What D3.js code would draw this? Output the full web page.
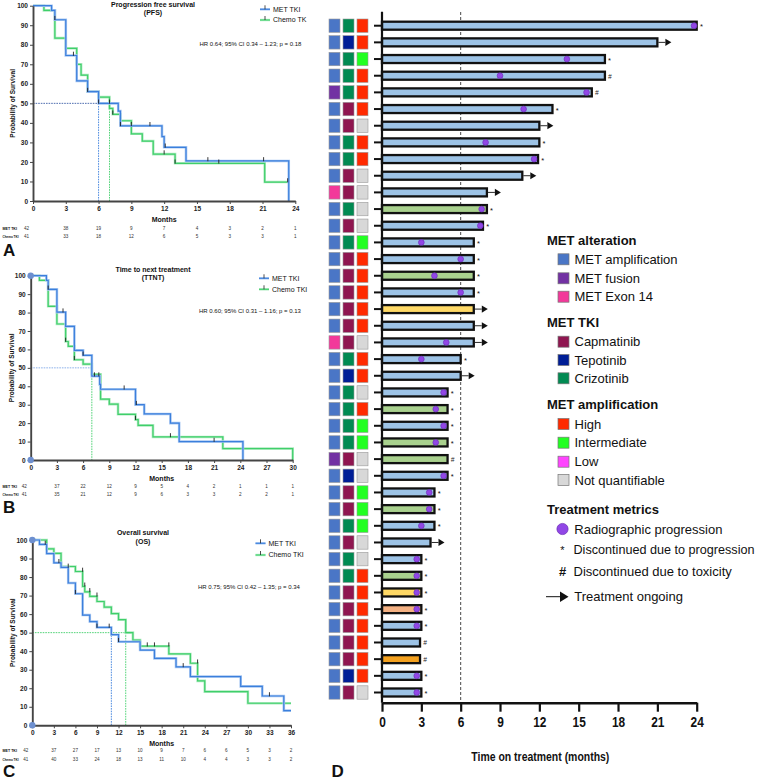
<!DOCTYPE html>
<html><head><meta charset="utf-8">
<script src="https://cdn.jsdelivr.net/npm/d3@7"></script>
<style>body{margin:0;background:#fff} svg{display:block;font-family:"Liberation Sans",Arial,sans-serif}</style>
</head><body><svg id="c" width="758" height="780"></svg>
<script>
// ---------- Kaplan-Meier data (time in months, survival %) ----------
const pfsMet = [[0,100],[1.7,97.6],[2,92.8],[3,74.5],[4,61.5],[5,56],[6,50],[7.8,46],[8,38.5],[11.8,33],[12,27.5],[14,20.5],[23.4,0]];
const pfsChemo = [[0,100],[1,97.6],[2,83.4],[3,78.2],[4,70],[4.4,64.5],[5,56],[6,53.2],[7,47.4],[7.3,44.4],[8,41.1],[9,34.4],[10,30.7],[11,24],[13,19.3],[21.2,9.7],[23.3,9.7]];
const pfsMetCens = [[2,92.8],[3.7,74.5],[5,56],[6,50],[7,50],[8,38.5],[9,38.5],[10.7,38.5],[12.1,27.5],[16,20.5],[21.1,20.5]];
const pfsChemoCens = [[7.3,44.4],[12,24],[13,19.3],[17,19.3],[23.3,9.7]];
const pfsTicks = [0,3,6,9,12,15,18,21,24];
const pfsRiskMet = [42,38,19,9,7,4,3,2,1];
const pfsRiskChemo = [41,33,18,12,6,5,3,3,1];

const ttntMet = [[0,100],[1.8,97.5],[2,92.6],[3,80.2],[4,72.5],[5,59.5],[6,56.8],[7,45.5],[7.9,41],[8,38.4],[12,30],[13,25],[16,20],[17,10],[24.3,0]];
const ttntChemo = [[0,100],[1,97.5],[2,83.4],[3,73.8],[4,64.3],[4.3,61.7],[5,54.4],[6,52],[7,46.5],[8,33],[9,30.3],[10,24.8],[12,21.9],[12.3,18.8],[14,12.5],[22,6.2],[30,0]];
const ttntMetCens = [[2,92.6],[3.7,80.2],[6,56.8],[7.3,45.5],[7.8,45.5],[10.7,38.4],[12.1,30],[21,10]];
const ttntChemoCens = [[4,64.3],[5,54.4],[12,21.9],[16,12.5]];
const ttntTicks = [0,3,6,9,12,15,18,21,24,27,30];
const ttntRiskMet = [42,37,22,12,9,5,4,2,1,1,1];
const ttntRiskChemo = [41,35,21,12,9,6,3,3,2,2,1];

const osMet = [[0,100],[1,97.6],[2,92.7],[3,87.7],[4,85.2],[5,76.8],[6,71],[7,59.5],[8,56],[9,52.8],[11,48.9],[12,45.1],[15,40.6],[17,36.1],[20,31.5],[22,26.3],[29,21],[32,15.8],[35,7.9],[36,7.9]];
const osChemo = [[0,100],[2,95.2],[3,92.8],[4,85.7],[6,83],[7,75],[7.3,72],[8,69.6],[9,66.8],[10,63.8],[11,60.3],[12,57],[13,50],[14,46],[15,42.7],[19,38.5],[22,33.5],[23,24],[24,18.2],[30,11.9],[36,11.9]];
const osMetCens = [[1.8,97.6],[3.7,87.7],[5,85.2],[6,71],[9,52.8],[10.7,52.8],[12,45.1],[21,31.5],[33,15.8]];
const osChemoCens = [[7,83],[7.3,75],[8,72],[9,69.6],[16,42.7],[17,42.7],[19,42.7],[23,33.5]];
const osTicks = [0,3,6,9,12,15,18,21,24,27,30,33,36];
const osRiskMet = [42,37,27,17,13,10,9,7,6,6,5,3,2];
const osRiskChemo = [41,40,33,24,18,13,11,10,4,4,3,3,2];

const yTicks = [0,10,20,30,40,50,60,70,80,90,100];

// ---------- Swimmer plot data (panel D), one entry per patient ----------
const dAlt = ['amp','amp','amp','amp','fus','amp','amp','amp','amp','amp','ex14','amp','amp','amp','amp','amp','amp','amp','amp','ex14','amp','amp','amp','amp','amp','amp','fus','amp','amp','amp','amp','amp','amp','amp','amp','amp','amp','amp','amp','amp','amp'];
const dTki = ['cri','tep','cri','cri','cri','cap','cap','cri','cri','cap','cap','cri','cap','cri','cap','cap','cap','cap','cap','cap','cri','tep','cri','cri','cri','cri','cap','tep','cap','cap','cri','cap','cri','cri','cap','cap','cap','cap','cap','tep','cap'];
const dAmp = ['high','high','int','high','high','high','nq','high','high','nq','nq','nq','nq','int','high','high','high','high','high','nq','high','high','nq','high','int','int','nq','nq','int','int','int','nq','nq','high','high','high','high','high','high','high','nq'];
const dDuration = [24,21,17,17,16,13,12,12,11.9,10.7,8,8,7.7,7,7,7,7,7,7,7,6,6,5,5,5,5,5,5,4,4,4,3.7,3,3,3,3,3,2.9,2.9,3,3];
const dBar = ['b','b','b','b','b','b','b','b','b','b','b','g','b','b','b','g','b','y','b','b','b','b','b','g','b','g','g','b','b','g','b','b','b','g','y','p','b','b','o','b','b'];
const dProg = [23.8,null,14.1,9.0,15.6,10.8,null,7.9,11.6,null,null,7.6,7.5,3.0,6.0,4.0,6.0,null,null,4.9,3.0,null,4.7,4.1,4.7,4.1,null,4.7,3.6,3.6,3.0,null,2.65,2.65,2.65,2.65,2.65,null,null,2.65,2.65];
const dEnd = ['*','arrow','*','#','#','*','arrow','*','*','arrow','arrow','*','*','*','*','*','*','arrow','arrow','arrow','*','arrow','*','*','*','*','#','*','*','*','*','arrow','*','*','*','*','*','#','#','*','*'];
const dTicks = [0,3,6,9,12,15,18,21,24];

// ---------- colours ----------
const altColor = {amp:'#4a76c6', fus:'#7231a3', ex14:'#f2399a'};
const tkiColor = {cap:'#8f1650', tep:'#001e96', cri:'#018a52'};
const ampColor = {high:'#ff2a00', int:'#22ff22', low:'#ff44ff', nq:'#d8d8d8'};
const barColor = {b:'#9dc3e6', g:'#a9d18e', y:'#ffd966', p:'#f4b183', o:'#f4a11f'};
const BLUE = '#3b7fdc', GREEN = '#3fcf6a', BLUE_L = '#a9c8f2', GREEN_L = '#aeeac0';

const svg = d3.select('#c');
function narrow(sel, f) {
  sel.each(function () {
    const L = this.getComputedTextLength();
    d3.select(this).attr('textLength', L * f).attr('lengthAdjust', 'spacingAndGlyphs');
  });
}

function km(o) {
  const g = svg.append('g');
  const x = d3.scaleLinear([0, o.xMax], [o.x0, o.x1]);
  const y = d3.scaleLinear([0, 100], [o.y0, o.y1]);
  o.medians.forEach(m => {
    g.append('line').attr('x1', x(m[0])).attr('x2', x(m[1])).attr('y1', y(m[2])).attr('y2', y(m[3]))
      .attr('stroke', m[4]).attr('stroke-width', 0.9).attr('stroke-dasharray', '1.6,1');
  });
  const line = d3.line().x(d => x(d[0])).y(d => y(d[1])).curve(d3.curveStepAfter);
  [[o.chemo, GREEN, GREEN_L], [o.met, BLUE, BLUE_L]].forEach(([d, c, cl]) => {
    g.append('path').attr('d', line(d)).attr('fill', 'none').attr('stroke', cl).attr('stroke-width', 2.6);
    g.append('path').attr('d', line(d)).attr('fill', 'none').attr('stroke', c).attr('stroke-width', 1.2);
  });
  [...o.metC, ...o.chemoC].forEach(d => {
    g.append('line').attr('x1', x(d[0])).attr('x2', x(d[0])).attr('y1', y(d[1]) - 3.8).attr('y2', y(d[1]) + 0.3)
      .attr('stroke', '#222').attr('stroke-width', 0.9);
  });
  const ay = g.append('g').attr('transform', `translate(${o.x0},0)`)
    .call(d3.axisLeft(y).tickValues(yTicks).tickSize(3).tickSizeOuter(0).tickPadding(2));
  const ax = g.append('g').attr('transform', `translate(0,${o.y0})`)
    .call(d3.axisBottom(x).tickValues(o.ticks).tickSize(3).tickSizeOuter(0).tickPadding(2.5));
  [ay, ax].forEach(a => {
    a.select('.domain').attr('stroke', '#444').attr('stroke-width', 1.9);
    a.selectAll('.tick line').attr('stroke', '#444').attr('stroke-width', 1);
    a.selectAll('.tick text').attr('font-size', 6.5).attr('font-weight', 'bold').attr('fill', '#222')
      .attr('font-family', '"Liberation Sans",Arial,sans-serif');
  });
  if (o.dots) {
    [100, 0].forEach(v => g.append('circle').attr('cx', o.x0).attr('cy', y(v)).attr('r', 3.2).attr('fill', '#6d8fcf'));
  }
  const t = (tx, xx, yy, fs, w, anchor) => g.append('text').text(tx).attr('x', xx).attr('y', yy)
    .attr('font-size', fs).attr('font-weight', w || 'normal').attr('text-anchor', anchor || 'start').attr('fill', '#111');
  t(o.title[0], o.titleX, o.titleY, 7, 'bold', 'middle');
  t(o.title[1], o.titleX, o.titleY + 8.7, 7, 'bold', 'middle');
  t('Months', (o.x0 + o.x1) / 2, o.y0 + 20.5, 7, 'bold', 'middle');
  g.append('text').text('Probability of Survival').attr('transform', `translate(${o.ylabX},${(o.y0 + o.y1) / 2}) rotate(-90)`)
    .attr('font-size', 6.5).attr('font-weight', 'bold').attr('text-anchor', 'middle').attr('fill', '#111');
  t(o.hr, o.hrX, o.hrY, 6, 'normal', 'start');
  [[o.legNames[0], BLUE, BLUE_L, o.legY], [o.legNames[1], GREEN, GREEN_L, o.legY + o.legGap]].forEach(([n, c, cl, ly]) => {
    g.append('line').attr('x1', o.legX - 13).attr('x2', o.legX - 3).attr('y1', ly).attr('y2', ly).attr('stroke', cl).attr('stroke-width', 2.4);
    g.append('line').attr('x1', o.legX - 13).attr('x2', o.legX - 3).attr('y1', ly).attr('y2', ly).attr('stroke', c).attr('stroke-width', 1.1);
    g.append('line').attr('x1', o.legX - 8).attr('x2', o.legX - 8).attr('y1', ly - 4).attr('y2', ly).attr('stroke', '#222').attr('stroke-width', 0.8);
    t(n, o.legX, ly + 2.4, 7, 'normal', 'start');
  });
  [['MET TKI', o.riskMet, o.riskY, 14.5], ['Chemo TKI', o.riskChemo, o.riskY + o.riskGap, 16]].forEach(([lab, arr, ry, tl]) => {
    t(lab, 2.5, ry + 1.5, 3.6, 'bold', 'start').attr('textLength', tl).attr('lengthAdjust', 'spacingAndGlyphs');
    arr.forEach((v, i) => t(v, i === 0 ? x(o.ticks[i]) - 6.5 : x(o.ticks[i]), ry + 1.6, 4.6, 'normal', 'middle').attr('fill', '#333'));
  });
  t(o.letter, 3, o.letterY, 17, 'bold', 'start');
}

km({ xMax: 24, x0: 33, x1: 295.3, y0: 201, y1: 5.7, ticks: pfsTicks, met: pfsMet, chemo: pfsChemo,
  metC: pfsMetCens, chemoC: pfsChemoCens, riskMet: pfsRiskMet, riskChemo: pfsRiskChemo,
  medians: [[0, 6, 50, 50, '#3d5fa8'], [6, 6, 50, 0, BLUE], [7, 7, 50, 0, GREEN]],
  title: ['Progression free survival', '(PFS)'], titleX: 153, titleY: 6.5,
  hr: 'HR 0.64; 95% CI 0.34 \u2013 1.23; p = 0.18', hrX: 199.5, hrY: 45.5,
  legNames: ['MET TKI', 'Chemo TK'], legX: 273, legY: 9.3, legGap: 10.7,
  ylabX: 15, riskY: 228.7, riskGap: 8, letter: 'A', letterY: 256, dots: false });

km({ xMax: 30, x0: 30.7, x1: 292.7, y0: 460, y1: 275.7, ticks: ttntTicks, met: ttntMet, chemo: ttntChemo,
  metC: ttntMetCens, chemoC: ttntChemoCens, riskMet: ttntRiskMet, riskChemo: ttntRiskChemo,
  medians: [[0, 7, 50, 50, '#7fa8e8'], [7, 7, 50, 0, GREEN]],
  title: ['Time to next treatment', '(TTNT)'], titleX: 153, titleY: 271.5,
  hr: 'HR 0.60; 95% CI 0.31 \u2013 1.16; p = 0.13', hrX: 199, hrY: 313,
  legNames: ['MET TKI', 'Chemo TKI'], legX: 272, legY: 278.3, legGap: 11,
  ylabX: 14, riskY: 486.7, riskGap: 7.5, letter: 'B', letterY: 513, dots: true });

km({ xMax: 36, x0: 32.3, x1: 291, y0: 725.3, y1: 540, ticks: osTicks, met: osMet, chemo: osChemo,
  metC: osMetCens, chemoC: osChemoCens, riskMet: osRiskMet, riskChemo: osRiskChemo,
  medians: [[0, 13, 50, 50, GREEN], [11, 11, 50, 0, BLUE], [13, 13, 50, 0, GREEN]],
  title: ['Overall survival', '(OS)'], titleX: 143, titleY: 535,
  hr: 'HR 0.75; 95% CI 0.42 \u2013 1.35; p = 0.34', hrX: 198, hrY: 589,
  legNames: ['MET TKI', 'Chemo TKI'], legX: 268.5, legY: 543.3, legGap: 11.7,
  ylabX: 15, riskY: 750.7, riskGap: 8.3, letter: 'C', letterY: 777, dots: true });

// ---------- Panel D ----------
const gd = svg.append('g');
const xD = d3.scaleLinear([0, 24], [382, 696.7]);
const rows = d3.range(dDuration.length);
const yD = d3.scalePoint(rows, [25.7, 692.5]);
const AX_Y = 702.7;

gd.append('line').attr('x1', xD(6)).attr('x2', xD(6)).attr('y1', 12).attr('y2', AX_Y)
  .attr('stroke', '#333').attr('stroke-width', 0.9).attr('stroke-dasharray', '3,2');

rows.forEach(i => {
  const cy = yD(i);
  [[329, altColor[dAlt[i]]], [343, tkiColor[dTki[i]]], [357, ampColor[dAmp[i]]]].forEach(([sx, c]) => {
    gd.append('rect').attr('x', sx).attr('y', cy - 6.7).attr('width', 11).attr('height', 13.4)
      .attr('fill', c).attr('stroke', '#999').attr('stroke-width', 0.6);
  });
  gd.append('line').attr('x1', 374).attr('x2', 382).attr('y1', cy).attr('y2', cy).attr('stroke', '#111').attr('stroke-width', 2);
  const xe = xD(dDuration[i]);
  gd.append('rect').attr('x', xD(0)).attr('y', cy - 4).attr('width', xe - xD(0)).attr('height', 8)
    .attr('fill', barColor[dBar[i]]).attr('stroke', '#111').attr('stroke-width', 2.3);
  if (dProg[i] != null) {
    gd.append('circle').attr('cx', xD(dProg[i])).attr('cy', cy).attr('r', 2.9)
      .attr('fill', '#9147e6').attr('stroke', '#6a2bb5').attr('stroke-width', 0.6);
  }
  if (dEnd[i] === 'arrow') {
    gd.append('line').attr('x1', xe + 1).attr('x2', xe + 8).attr('y1', cy).attr('y2', cy).attr('stroke', '#111').attr('stroke-width', 0.9);
    gd.append('path').attr('d', `M${xe + 8},${cy - 3.6}L${xe + 14},${cy}L${xe + 8},${cy + 3.6}Z`).attr('fill', '#111');
  } else if (dEnd[i] === '*') {
    gd.append('text').text('*').attr('x', xe + 3.2).attr('y', cy + 3.6).attr('font-size', 7.5).attr('fill', '#111');
  } else {
    gd.append('text').text('#').attr('x', xe + 3.2).attr('y', cy + 2.8).attr('font-size', 6.5).attr('font-style', 'italic').attr('fill', '#222');
  }
});

gd.append('line').attr('x1', 382).attr('x2', 382).attr('y1', 11.7).attr('y2', AX_Y).attr('stroke', '#111').attr('stroke-width', 2.2);
const axD = gd.append('g').attr('transform', `translate(0,${AX_Y})`)
  .call(d3.axisBottom(xD).tickValues(dTicks).tickSize(9).tickSizeOuter(0).tickPadding(5));
axD.select('.domain').attr('stroke', '#111').attr('stroke-width', 2.5);
axD.selectAll('.tick line').attr('stroke', '#111').attr('stroke-width', 2.2);
axD.selectAll('.tick text').attr('font-size', 14).attr('font-weight', 'bold').attr('fill', '#111')
  .attr('font-family', '"Liberation Sans",Arial,sans-serif');
narrow(axD.selectAll('.tick text'), 0.85);
const dTitle = gd.append('text').text('Time on treatment (months)').attr('x', (xD(0) + xD(24)) / 2 + 1).attr('y', 761)
  .attr('text-anchor', 'middle').attr('font-size', 13).attr('font-weight', 'bold').attr('fill', '#111');
dTitle.attr('textLength', 138).attr('lengthAdjust', 'spacingAndGlyphs');
gd.append('text').text('D').attr('x', 331.5).attr('y', 777).attr('font-size', 17).attr('font-weight', 'bold').attr('fill', '#111');

const legSections = [
  { head: 'MET alteration', hy: 240, items: [['MET amplification', altColor.amp, 259.3], ['MET fusion', altColor.fus, 278.3], ['MET Exon 14', altColor.ex14, 296.7]] },
  { head: 'MET TKI', hy: 322.3, items: [['Capmatinib', tkiColor.cap, 341.7], ['Tepotinib', tkiColor.tep, 360], ['Crizotinib', tkiColor.cri, 378.3]] },
  { head: 'MET amplification', hy: 404, items: [['High', ampColor.high, 424], ['Intermediate', ampColor.int, 442.7], ['Low', ampColor.low, 461.7], ['Not quantifiable', ampColor.nq, 480]] }
];
legSections.forEach(s => {
  gd.append('text').text(s.head).attr('x', 547).attr('y', s.hy + 4.6).attr('font-size', 13).attr('font-weight', 'bold').attr('fill', '#111');
  s.items.forEach(([n, c, iy]) => {
    gd.append('rect').attr('x', 558).attr('y', iy - 5.5).attr('width', 11).attr('height', 11).attr('fill', c).attr('stroke', '#777').attr('stroke-width', 0.7);
    gd.append('text').text(n).attr('x', 574.5).attr('y', iy + 4.6).attr('font-size', 13).attr('fill', '#111');
  });
});
gd.append('text').text('Treatment metrics').attr('x', 547).attr('y', 509.3 + 4.6).attr('font-size', 13).attr('font-weight', 'bold').attr('fill', '#111');
gd.append('circle').attr('cx', 562.5).attr('cy', 529).attr('r', 5.6).attr('fill', '#9147e6').attr('stroke', '#6a2bb5').attr('stroke-width', 0.7);
gd.append('text').text('Radiographic progression').attr('x', 574.3).attr('y', 529 + 4.6).attr('font-size', 13).attr('fill', '#111');
gd.append('text').text('*').attr('x', 562.5).attr('y', 549.3 + 5).attr('font-size', 11).attr('text-anchor', 'middle').attr('fill', '#111');
gd.append('text').text('Discontinued due to progression').attr('x', 573.5).attr('y', 549.3 + 4.4).attr('font-size', 12.2).attr('fill', '#111')
  .attr('textLength', 181).attr('lengthAdjust', 'spacingAndGlyphs');
gd.append('text').text('#').attr('x', 562.5).attr('y', 571 + 4.6).attr('font-size', 13).attr('font-weight', 'bold').attr('text-anchor', 'middle').attr('fill', '#111');
gd.append('text').text('Discontinued due to toxicity').attr('x', 573.5).attr('y', 571 + 4.6).attr('font-size', 13).attr('fill', '#111');
gd.append('line').attr('x1', 546).attr('x2', 561).attr('y1', 596.7).attr('y2', 596.7).attr('stroke', '#111').attr('stroke-width', 1);
gd.append('path').attr('d', 'M560,591.5L568.5,596.7L560,601.9Z').attr('fill', '#111');
gd.append('text').text('Treatment ongoing').attr('x', 574.3).attr('y', 596.7 + 4.6).attr('font-size', 13).attr('fill', '#111');
</script></body></html>
